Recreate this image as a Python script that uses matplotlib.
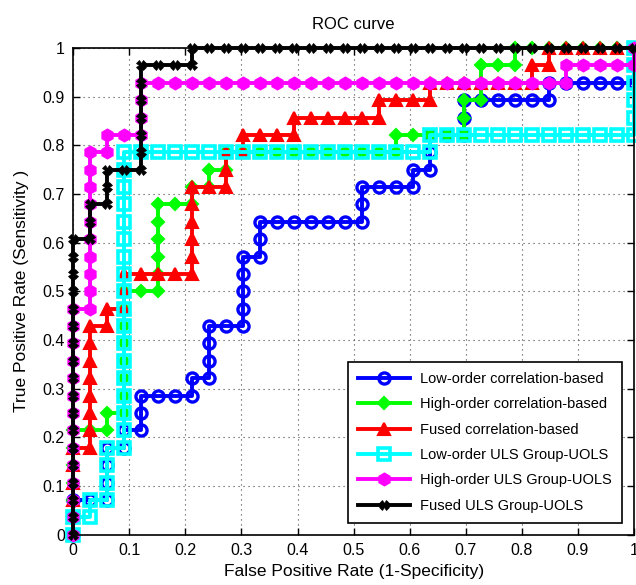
import numpy as np
import matplotlib
matplotlib.use('Agg')
import matplotlib.pyplot as plt

plt.rcParams['font.family'] = ['Liberation Sans', 'DejaVu Sans']

# ROC points as counts: false positives (of 33 negatives), true positives (of 28 positives)
n_neg = 33
n_pos = 28

blue_fp = [0, 0, 0, 1, 2, 2, 2, 2, 3, 3, 4, 4, 4, 5, 6, 7, 7, 8, 8, 8, 8, 9, 10, 10, 10, 10, 10,
           11, 11, 11, 12, 13, 14, 15, 16, 17, 17, 17, 18, 19, 20, 20, 21, 21, 21, 22, 23, 23, 23,
           24, 25, 26, 27, 28, 28, 29, 30, 31, 32, 33, 33, 33]
blue_tp = [0, 1, 2, 2, 2, 3, 4, 5, 5, 6, 6, 7, 8, 8, 8, 8, 9, 9, 10, 11, 12, 12, 12, 13, 14, 15, 16,
           16, 17, 18, 18, 18, 18, 18, 18, 18, 19, 20, 20, 20, 20, 21, 21, 22, 23, 23, 23, 24, 25,
           25, 25, 25, 25, 25, 26, 26, 26, 26, 26, 26, 27, 28]

green_fp = [0, 0, 0, 0, 0, 0, 0, 1, 2, 2, 3, 3, 3, 3, 3, 3, 3, 3, 4, 5, 5, 5, 5, 5, 5, 6, 7, 7, 8, 8,
            9, 9, 10, 11, 12, 13, 14, 15, 16, 17, 18, 19, 19, 20, 21, 22, 23, 23, 23, 24, 24, 24,
            25, 26, 26, 27, 28, 29, 30, 31, 32, 33]
green_tp = [0, 1, 2, 3, 4, 5, 6, 6, 6, 7, 7, 8, 9, 10, 11, 12, 13, 14, 14, 14, 15, 16, 17, 18, 19,
            19, 19, 20, 20, 21, 21, 22, 22, 22, 22, 22, 22, 22, 22, 22, 22, 22, 23, 23, 23, 23, 23,
            24, 25, 25, 26, 27, 27, 27, 28, 28, 28, 28, 28, 28, 28, 28]

red_fp = [0, 0, 0, 0, 0, 0, 1, 1, 1, 1, 1, 1, 1, 1, 2, 2, 3, 3, 3, 4, 5, 6, 7, 7, 7, 7, 7, 7, 8, 9,
          9, 9, 10, 10, 11, 12, 13, 13, 14, 15, 16, 17, 18, 18, 19, 20, 21, 21, 22, 23, 24, 25, 26,
          27, 27, 28, 28, 29, 30, 31, 32, 33]
red_tp = [0, 1, 2, 3, 4, 5, 5, 6, 7, 8, 9, 10, 11, 12, 12, 13, 13, 14, 15, 15, 15, 15, 15, 16, 17,
          18, 19, 20, 20, 20, 21, 22, 22, 23, 23, 23, 23, 24, 24, 24, 24, 24, 24, 25, 25, 25, 25,
          26, 26, 26, 26, 26, 26, 26, 27, 27, 28, 28, 28, 28, 28, 28]

cyan_fp = [0, 0, 1, 1, 2, 2, 2, 2,
           3, 3, 3, 3, 3, 3, 3, 3, 3, 3, 3, 3, 3, 3, 3, 3, 3, 3,
           4, 5, 6, 7, 8, 9, 10, 11, 12, 13, 14, 15, 16, 17, 18, 19, 20, 21,
           21, 22, 23, 24, 25, 26, 27, 28, 29, 30, 31, 32, 33,
           33, 33, 33, 33, 33]
cyan_tp = [0, 1, 1, 2, 2, 3, 4, 5,
           5, 6, 7, 8, 9, 10, 11, 12, 13, 14, 15, 16, 17, 18, 19, 20, 21, 22,
           22, 22, 22, 22, 22, 22, 22, 22, 22, 22, 22, 22, 22, 22, 22, 22, 22, 22,
           23, 23, 23, 23, 23, 23, 23, 23, 23, 23, 23, 23, 23,
           24, 25, 26, 27, 28]

magenta_fp = [0, 0, 0, 0, 0, 0, 0, 0, 0, 0, 0, 0, 0, 0,
              1, 1, 1, 1, 1, 1, 1, 1, 1, 1,
              2, 2, 3, 4, 4, 4, 4,
              5, 6, 7, 8, 9, 10, 11, 12, 13, 14, 15, 16, 17, 18, 19, 20, 21, 22, 23, 24, 25, 26,
              27, 28, 29,
              29, 30, 31, 32, 33, 33]
magenta_tp = [0, 1, 2, 3, 4, 5, 6, 7, 8, 9, 10, 11, 12, 13,
              13, 14, 15, 16, 17, 18, 19, 20, 21, 22,
              22, 23, 23, 23, 24, 25, 26,
              26, 26, 26, 26, 26, 26, 26, 26, 26, 26, 26, 26, 26, 26, 26, 26, 26, 26, 26, 26, 26, 26,
              26, 26, 26,
              27, 27, 27, 27, 27, 28]

black_fp = [0, 0, 0, 0, 0, 0, 0, 0, 0, 0, 0, 0, 0, 0, 0, 0, 0, 0,
            1, 1, 1, 2, 2, 2, 3, 4, 4, 4, 4, 4, 4, 4, 5, 6, 7, 7,
            8, 9, 10, 11, 12, 13, 14, 15, 16, 17, 18, 19, 20, 21, 22, 23, 24, 25, 26, 27, 28,
            29, 30, 31, 32, 33]
black_tp = [0, 1, 2, 3, 4, 5, 6, 7, 8, 9, 10, 11, 12, 13, 14, 15, 16, 17,
            17, 18, 19, 19, 20, 21, 21, 21, 22, 23, 24, 25, 26, 27, 27, 27, 27, 28,
            28, 28, 28, 28, 28, 28, 28, 28, 28, 28, 28, 28, 28, 28, 28, 28, 28, 28, 28, 28, 28,
            28, 28, 28, 28, 28]

labels = ['Low-order correlation-based', 'High-order correlation-based', 'Fused correlation-based',
          'Low-order ULS Group-UOLS', 'High-order ULS Group-UOLS', 'Fused ULS Group-UOLS']

fig = plt.figure(figsize=(6.36, 5.85), dpi=100)
ax = fig.add_axes([0.115, 0.086, 0.882, 0.832])

lw = 2.8
ax.plot(np.array(blue_fp) / n_neg, np.array(blue_tp) / n_pos, '-o', color='#0000ff', lw=lw,
        ms=8, mew=2.4, mfc='none', label=labels[0], clip_on=False)
ax.plot(np.array(green_fp) / n_neg, np.array(green_tp) / n_pos, '-D', color='#00ff00', lw=lw,
        ms=6.5, mew=1.5, mfc='#00ff00', label=labels[1], clip_on=False)
ax.plot(np.array(red_fp) / n_neg, np.array(red_tp) / n_pos, '-^', color='#ff0000', lw=lw,
        ms=9, mew=1.5, mfc='#ff0000', label=labels[2], clip_on=False)
ax.plot(np.array(cyan_fp) / n_neg, np.array(cyan_tp) / n_pos, '-s', color='#00ffff', lw=lw,
        ms=8, mew=2.6, mfc='none', label=labels[3], clip_on=False)
ax.plot(np.array(magenta_fp) / n_neg, np.array(magenta_tp) / n_pos, '-h', color='#ff00ff', lw=lw,
        ms=8.5, mew=1.5, mfc='#ff00ff', label=labels[4], clip_on=False)
ax.plot(np.array(black_fp) / n_neg, np.array(black_tp) / n_pos, '-X', color='black', lw=lw,
        ms=7, mew=0.5, mfc='black', label=labels[5], clip_on=False)

ax.set_xlim(0, 1)
ax.set_ylim(0, 1)
ticks = np.arange(0, 1.01, 0.1)
tick_labels = ['0', '0.1', '0.2', '0.3', '0.4', '0.5', '0.6', '0.7', '0.8', '0.9', '1']
ax.set_xticks(ticks)
ax.set_xticklabels(tick_labels)
ax.set_yticks(ticks)
ax.set_yticklabels(tick_labels)
ax.tick_params(direction='in', top=True, right=True, labelsize=11.5, length=5, width=1, pad=6)
ax.grid(True, linestyle=(0, (1, 3.5)), color='#444444', linewidth=0.8)
for s in ax.spines.values():
    s.set_linewidth(1.2)

ax.set_title('ROC curve', fontsize=12, pad=14)
ax.set_xlabel('False Positive Rate (1-Specificity)', fontsize=12.5, labelpad=4)
ax.set_ylabel('True Positive Rate (Sensitivity )', fontsize=12.5, labelpad=10)

leg = ax.legend(loc='lower right', fontsize=10.5, fancybox=False, framealpha=1,
                edgecolor='black', handlelength=3.6, borderaxespad=0.8, labelspacing=0.78,
                borderpad=0.7, handletextpad=0.7)
leg.get_frame().set_linewidth(1.2)

fig.savefig('out.png', dpi=100)
